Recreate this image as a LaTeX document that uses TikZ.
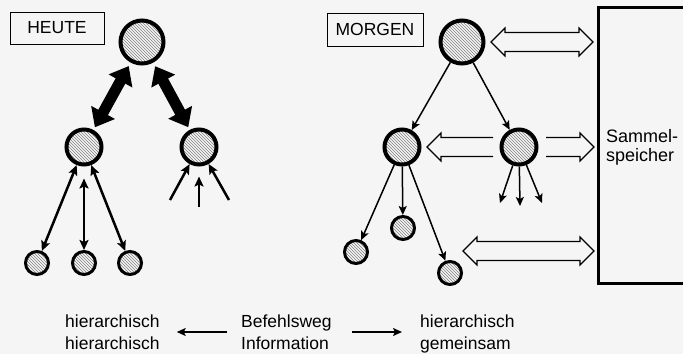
\documentclass[tikz,border=0pt]{standalone}
\usepackage{fontspec}
\setmainfont{Liberation Sans}
\usetikzlibrary{arrows.meta,patterns,calc}
\newcommand\OpenDouble[2]{%
 \draw[openarr] let \p1=(#1), \p2=(#2) in
  (\x1,\y1) -- (\x1+14pt,\y1+14pt) -- (\x1+14pt,\y1+9.5pt) -- (\x2-14pt,\y1+9.5pt)
  -- (\x2-14pt,\y1+14pt) -- (\x2,\y1) -- (\x2-14pt,\y1-14pt) -- (\x2-14pt,\y1-9.5pt)
  -- (\x1+14pt,\y1-9.5pt) -- (\x1+14pt,\y1-14pt) -- cycle;}
\newcommand\OpenSingle[2]{%
 \draw[openarr] let \p1=(#1), \p2=(#2), \n1={(\x2>\x1)?1:-1} in
  (\x2,\y1+9.5pt) -- (\x1+\n1*14pt,\y1+9.5pt) -- (\x1+\n1*14pt,\y1+14pt) -- (\x1,\y1)
  -- (\x1+\n1*14pt,\y1-14pt) -- (\x1+\n1*14pt,\y1-9.5pt) -- (\x2,\y1-9.5pt);}
\begin{document}
\begin{tikzpicture}[x=1pt,y=-1pt,
  big/.style={circle,draw,line width=4pt,minimum size=43pt,inner sep=0pt,
    pattern=north west lines,pattern color=black!50},
  mid/.style={big,minimum size=35pt},
  small/.style={big,minimum size=23pt,line width=3pt},
  labelbox/.style={draw,line width=0.8pt,minimum width=94pt,minimum height=32pt,
    inner sep=0pt,font=\fontsize{17.5}{20}\selectfont},
  bigarr/.style={line width=11pt,{Triangle[length=17pt,width=26pt]}-{Triangle[length=17pt,width=26pt]}},
  darr/.style={line width=2.5pt,{Stealth[length=10pt,width=9pt,inset=2pt]}-{Stealth[length=10pt,width=9pt,inset=2pt]}},
  uarr/.style={line width=2.5pt,-{Stealth[length=10pt,width=9pt,inset=2pt]}},
  thinarr/.style={line width=1.5pt,-{Stealth[length=9pt,width=8pt,inset=2pt]}},
  botarr/.style={line width=2pt,-{Stealth[length=9pt,width=8pt,inset=2pt]}},
  openarr/.style={draw,line width=1.1pt,line join=miter},
  txt/.style={font=\fontsize{17.5}{22}\selectfont,inner sep=0pt,align=left,anchor=north west}
]
\useasboundingbox[fill=black!4] (0,0) rectangle (683,354);

% HEUTE
\node[labelbox] (heute) at (57,28) {HEUTE};
\node[big] (t1) at (142,42) {};
\node[mid] (l1) at (84,147) {};
\node[mid] (r1) at (199,147) {};
\node[small] (b1) at (37,263) {};
\node[small] (b2) at (84,263) {};
\node[small] (b3) at (130,263) {};
\coordinate (u1) at (170,200);
\coordinate (u2) at (199,207);
\coordinate (u3) at (229,200);
\draw[bigarr,shorten <=4pt,shorten >=3pt] (t1) -- (l1);
\draw[bigarr,shorten <=4pt,shorten >=3pt] (t1) -- (r1);
\draw[darr] (l1) -- (b1);
\draw[darr,shorten <=12pt] (l1) -- (b2);
\draw[darr] (l1) -- (b3);
\draw[uarr] (u1) -- (r1);
\draw[uarr,shorten >=10pt] (u2) -- (r1);
\draw[uarr] (u3) -- (r1);

% MORGEN
\node[labelbox,minimum width=96pt,minimum height=33pt] (morgen) at (375,29.5) {MORGEN};
\node[big] (t2) at (462,42) {};
\node[mid] (l2) at (402,147) {};
\node[mid] (r2) at (519,147) {};
\node[small] (c1) at (356,252) {};
\node[small] (c2) at (403,228) {};
\node[small] (c3) at (450,273) {};
\coordinate (d1) at (500,203);
\coordinate (d2) at (520,206);
\coordinate (d3) at (542,203);
\coordinate (dA) at (463,251);
\draw[thinarr] (t2) -- (l2);
\draw[thinarr] (t2) -- (r2);
\draw[thinarr] (l2) -- (c1);
\draw[thinarr] (l2) -- (c2);
\draw[thinarr] (l2) -- (c3);
\draw[thinarr] (r2) -- (d1);
\draw[thinarr] (r2) -- (d2);
\draw[thinarr] (r2) -- (d3);

% Sammelspeicher
\node[draw,line width=3pt,minimum width=122pt,minimum height=276pt,inner sep=0pt] (mem) at (659,145) {};
\node[txt,font=\fontsize{18}{19}\selectfont] (sp) at (606,129.5) {Sammel-\\speicher};

\OpenDouble{$(t2.east)+(5.5,0)$}{$(mem.west |- t2)+(-3.5,0)$}
\OpenSingle{$(l2.east)+(5.5,0)$}{$(r2.west)+(-6.5,0)$}
\OpenSingle{$(mem.west |- r2)+(-2.5,0)$}{$(r2.east)+(7.5,0)$}
\OpenDouble{dA}{$(mem.west |- dA)+(-2.5,0)$}

% bottom legend
\node[txt] (h1) at (65,315) {hierarchisch\\hierarchisch};
\node[txt] (bef) at (241,315) {Befehlsweg\\Information};
\node[txt] (h2) at (420,315) {hierarchisch\\gemeinsam};
\draw[botarr] ($(bef.north west)+(-14,17)$) -- ($(h1.north east)+(17,17)$);
\draw[botarr] ($(bef.north east)+(20,17)$) -- ($(h2.north west)+(-18,17)$);
\end{tikzpicture}
\end{document}
